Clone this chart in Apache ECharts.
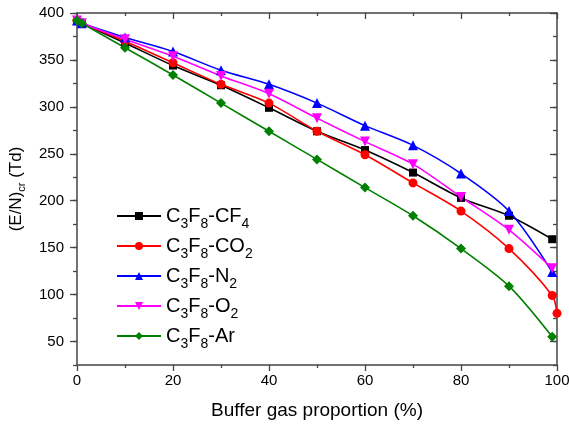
<!DOCTYPE html>
<html>
<head>
<meta charset="utf-8">
<script src="https://cdn.jsdelivr.net/npm/echarts@6/dist/echarts.min.js"></script>
<style>html,body{margin:0;padding:0;background:#fff}#c{width:569px;height:425px}</style>
</head>
<body>
<div id="c"></div>
<script>
var xValues = [0, 1, 10, 20, 30, 40, 50, 60, 70, 80, 90, 99];
var xValuesCO2 = [0, 1, 10, 20, 30, 40, 50, 60, 70, 80, 90, 99, 100];
var cf4 = [392, 389, 368, 344, 323, 299, 274, 254, 230, 203, 184, 159];
var co2 = [392, 389, 370, 347, 324, 304, 274, 249, 219, 189, 149, 99, 80];
var n2  = [392, 389, 374, 359, 339, 324, 304, 280, 259, 229, 189, 124];
var o2  = [392, 389, 372, 354, 333, 314, 288, 263, 239, 204, 169, 128];
var ar  = [392, 389, 363, 334, 304, 274, 244, 214, 184, 149, 109, 55];
var seriesNames = ['C3F8-CF4', 'C3F8-CO2', 'C3F8-N2', 'C3F8-O2', 'C3F8-Ar'];
var legendRich = {
  'C3F8-CF4': 'C{s|3}F{s|8}-CF{s|4}',
  'C3F8-CO2': 'C{s|3}F{s|8}-CO{s|2}',
  'C3F8-N2': 'C{s|3}F{s|8}-N{s|2}',
  'C3F8-O2': 'C{s|3}F{s|8}-O{s|2}',
  'C3F8-Ar': 'C{s|3}F{s|8}-Ar'
};
var yMajor = [50, 100, 150, 200, 250, 300, 350, 400];

function pairs(xs, ys) { return ys.map(function (y, i) { return [xs[i], y]; }); }

var FONT = '"Liberation Sans", Arial, sans-serif';
var AX = '#444';
var grid = { left: 77, right: 12, top: 13, bottom: 60, containLabel: false, outerBoundsMode: 'none' };

function mkSeries(name, xs, ys, color, symbol, size, rotate) {
  return {
    name: name, type: 'line', data: pairs(xs, ys),
    xAxisIndex: 0, yAxisIndex: 0,
    smooth: 0.3,
    symbol: symbol, symbolSize: size, symbolRotate: rotate || 0,
    showAllSymbol: true,
    lineStyle: { color: color, width: 1.6 },
    itemStyle: { color: color },
    emphasis: { disabled: true },
    animation: false
  };
}

var chart = echarts.init(document.getElementById('c'), null, { renderer: 'canvas' });
chart.setOption({
  animation: false,
  textStyle: { fontFamily: FONT },
  grid: grid,
  legend: {
    orient: 'vertical', left: 111, top: 196,
    itemWidth: 44, itemHeight: 10, itemGap: 0,
    data: seriesNames,
    formatter: function (n) { return legendRich[n]; },
    textStyle: {
      fontFamily: FONT, fontSize: 20, color: '#000', lineHeight: 30,
      rich: { s: { fontSize: 14, fontFamily: FONT, color: '#000', verticalAlign: 'bottom', lineHeight: 14 } }
    }
  },
  xAxis: [
    {
      type: 'value', position: 'bottom', min: 0, max: 100, interval: 20,
      name: 'Buffer gas proportion (%)', nameLocation: 'middle', nameGap: 36,
      nameTextStyle: { fontFamily: FONT, fontSize: 19, color: '#000' },
      axisLine: { show: true, lineStyle: { color: AX, width: 1.5 } },
      axisTick: { show: true, inside: false, length: 6, lineStyle: { color: AX, width: 1.3 } },
      minorTick: { show: true, splitNumber: 2, length: 3, lineStyle: { color: AX, width: 1.3 } },
      axisLabel: { fontFamily: FONT, fontSize: 15, color: '#000', margin: 8 },
      splitLine: { show: false }
    },
    {
      type: 'value', position: 'top', min: 0, max: 100, interval: 20,
      axisLine: { show: true, lineStyle: { color: AX, width: 1.5 } },
      axisTick: { show: true, inside: true, length: 6, lineStyle: { color: AX, width: 1.3 } },
      minorTick: { show: true, splitNumber: 2, length: 3, lineStyle: { color: AX, width: 1.3 } },
      axisLabel: { show: false },
      splitLine: { show: false }
    }
  ],
  yAxis: [
    {
      type: 'value', position: 'left', min: 25, max: 400, interval: 25,
      name: '(E/N){s|cr} (Td)', nameLocation: 'middle', nameGap: 50, nameRotate: 90,
      nameTextStyle: {
        fontFamily: FONT, fontSize: 17, color: '#000', lineHeight: 22,
        rich: { s: { fontSize: 11, fontFamily: FONT, color: '#000', verticalAlign: 'bottom', lineHeight: 12 } }
      },
      axisLine: { show: true, lineStyle: { color: AX, width: 1.5 } },
      axisTick: { show: true, inside: false, length: 4, lineStyle: { color: AX, width: 1.3 } },
      axisLabel: {
        fontFamily: FONT, fontSize: 15, color: '#000', margin: 13,
        formatter: function (v) { return v % 50 === 0 ? String(v) : ''; }
      },
      splitLine: { show: false }
    },
    {
      type: 'value', position: 'left', min: 25, max: 400,
      axisLine: { show: false },
      axisTick: { show: true, inside: false, length: 7, customValues: yMajor, lineStyle: { color: AX, width: 1.3 } },
      axisLabel: { show: false },
      splitLine: { show: false }
    },
    {
      type: 'value', position: 'right', min: 25, max: 400, interval: 25,
      axisLine: { show: true, lineStyle: { color: AX, width: 1.5 } },
      axisTick: { show: true, inside: true, length: 4, lineStyle: { color: AX, width: 1.3 } },
      axisLabel: { show: false },
      splitLine: { show: false }
    },
    {
      type: 'value', position: 'right', min: 25, max: 400,
      axisLine: { show: false },
      axisTick: { show: true, inside: true, length: 7, customValues: yMajor, lineStyle: { color: AX, width: 1.3 } },
      axisLabel: { show: false },
      splitLine: { show: false }
    }
  ],
  series: [
    mkSeries('C3F8-CF4', xValues, cf4, '#000000', 'rect', 8),
    mkSeries('C3F8-CO2', xValuesCO2, co2, '#ff0000', 'circle', 9),
    mkSeries('C3F8-N2', xValues, n2, '#0000ff', 'triangle', 10),
    mkSeries('C3F8-O2', xValues, o2, '#ff00ff', 'triangle', 10, 180),
    mkSeries('C3F8-Ar', xValues, ar, '#008000', 'diamond', 10)
  ]
});
</script>
</body>
</html>
